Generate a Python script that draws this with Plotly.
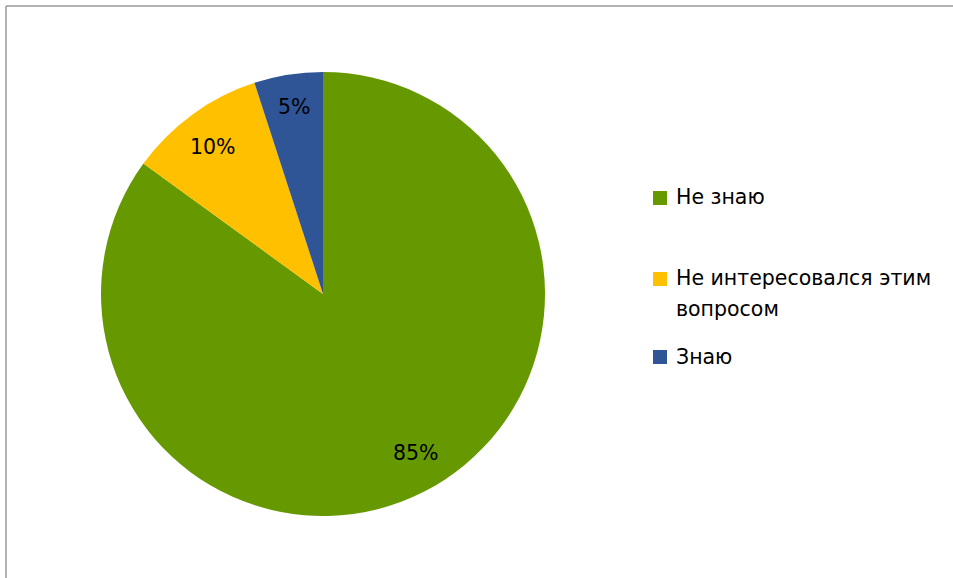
import math
import plotly.graph_objects as go

labels = ["Не знаю", "Не интересовался этим вопросом", "Знаю"]
legend_lines = [["Не знаю"], ["Не интересовался этим", "вопросом"], ["Знаю"]]
values = [85, 10, 5]
colors = ["#669900", "#FFC000", "#2F5597"]

W, H = 953, 578
CX, CY, R = 323, 294, 222
FONT = "DejaVu Sans"
FS = 20.5

fig = go.Figure(go.Pie(
    labels=labels, values=values, sort=False, direction="clockwise", rotation=0,
    marker=dict(colors=colors, line=dict(width=0)),
    textinfo="none",
    domain=dict(x=[(CX - R) / W, (CX + R) / W], y=[1 - (CY + R) / H, 1 - (CY - R) / H]),
    showlegend=False, hoverinfo="label+percent",
))

shapes = [
    dict(type="line", xref="paper", yref="paper", x0=6 / W, x1=1, y0=1 - 6 / H, y1=1 - 6 / H,
         line=dict(color="#999999", width=1.5)),
    dict(type="line", xref="paper", yref="paper", x0=6 / W, x1=6 / W, y0=0, y1=1 - 6 / H,
         line=dict(color="#999999", width=1.5)),
]
annotations = []

# percentage labels placed along each slice's mid-angle (with small pixel nudges)
total = sum(values)
start = 0.0
label_r = [0.84, 0.835, 0.85]
nudge = [(8, -7), (-1, 3), (1, -1)]
for i, v in enumerate(values):
    mid = (start + v / 2) / total * 2 * math.pi
    start += v
    px = CX + label_r[i] * R * math.sin(mid) + nudge[i][0]
    py = CY - label_r[i] * R * math.cos(mid) + nudge[i][1]
    annotations.append(dict(xref="paper", yref="paper", x=px / W, y=1 - py / H,
                            text=f"{round(v / total * 100)}%", showarrow=False,
                            xanchor="center", yanchor="middle",
                            font=dict(family=FONT, size=FS, color="#000000")))

sq_y = [198, 279, 357]
line_y = [[197], [278, 309], [357]]
for i, c in enumerate(colors):
    shapes.append(dict(type="rect", xref="paper", yref="paper",
                       x0=653 / W, x1=667 / W, y0=1 - (sq_y[i] + 7) / H, y1=1 - (sq_y[i] - 7) / H,
                       fillcolor=c, line=dict(width=0)))
    for t, ty in zip(legend_lines[i], line_y[i]):
        annotations.append(dict(xref="paper", yref="paper", x=674 / W, y=1 - ty / H,
                                text=t, showarrow=False, xanchor="left", yanchor="middle",
                                align="left",
                                font=dict(family=FONT, size=FS, color="#000000")))

fig.update_layout(
    width=W, height=H, margin=dict(l=0, r=0, t=0, b=0),
    paper_bgcolor="white", plot_bgcolor="white",
    shapes=shapes, annotations=annotations,
)
fig.write_html("out.html", config={"displayModeBar": False},
               post_script="document.body.style.margin='0';document.body.style.overflow='hidden';")
